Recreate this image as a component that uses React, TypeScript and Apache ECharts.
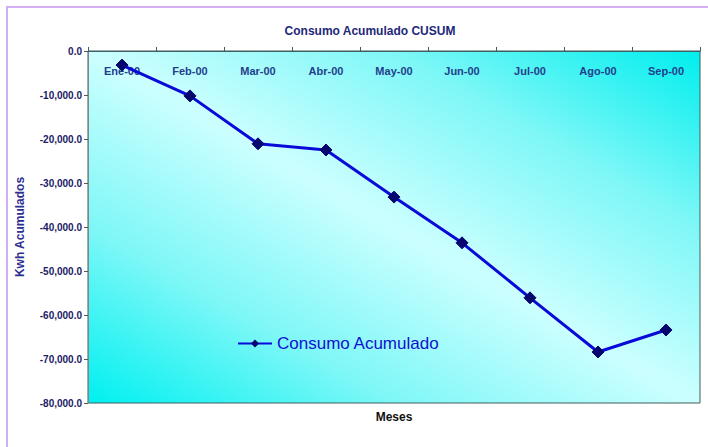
import React, { useEffect, useRef } from "react";
import * as echarts from "echarts";

const categories = ["Ene-00", "Feb-00", "Mar-00", "Abr-00", "May-00", "Jun-00", "Jul-00", "Ago-00", "Sep-00"];
const consumoAcumulado = [-3200, -10200, -21100, -22500, -33200, -43600, -56100, -68400, -63400];
const seriesName = "Consumo Acumulado";
const titleText = "Consumo Acumulado CUSUM";
const yAxisName = "Kwh Acumulados";
const xAxisName = "Meses";

const FONT = "'Liberation Sans Narrow', 'Liberation Sans', Arial, sans-serif";

export default function App() {
  const ref = useRef<HTMLDivElement>(null);
  useEffect(() => {
    if (!ref.current) return;
    const chart = echarts.init(ref.current, null, { renderer: "svg" });
    chart.setOption({
      animation: false,
      backgroundColor: "#ffffff",
      title: {
        text: titleText,
        left: 365,
        top: 20,
        textAlign: "center",
        textStyle: { fontFamily: FONT, fontSize: 12, fontWeight: "bold", color: "#22287a" },
      },
      graphic: [
        {
          type: "rect",
          shape: { x: 7, y: 7, width: 720, height: 460 },
          style: { fill: "none", stroke: "#d4aef2", lineWidth: 2 },
          silent: true,
        },
      ],
      legend: {
        data: [seriesName],
        left: 232,
        top: 330,
        itemWidth: 34,
        itemHeight: 10,
        itemGap: 4,
        textStyle: { fontFamily: "'Liberation Sans', Arial, sans-serif", fontSize: 17, color: "#1010d0" },
      },
      grid: {
        left: 88,
        top: 51,
        right: 8,
        bottom: 44,
        show: true,
        borderColor: "#3f5f5f",
        borderWidth: 1,
        backgroundColor: new echarts.graphic.LinearGradient(
          242, 491, 546, -37,
          [
            { offset: 0, color: "#00f0f0" },
            { offset: 0.25, color: "#7ef7f7" },
            { offset: 0.5, color: "#ccffff" },
            { offset: 0.75, color: "#7ef7f7" },
            { offset: 1, color: "#00eeee" },
          ],
          true
        ),
      },
      xAxis: {
        type: "category",
        data: categories,
        position: "top",
        boundaryGap: true,
        name: xAxisName,
        nameLocation: "middle",
        nameGap: -372,
        nameTextStyle: { fontFamily: FONT, fontSize: 12, fontWeight: "bold", color: "#111111" },
        axisLine: { show: true, lineStyle: { color: "#3f5f5f", width: 1 } },
        axisTick: { show: true, inside: false, length: 4, alignWithLabel: false, lineStyle: { color: "#3f5f5f" } },
        axisLabel: {
          inside: true,
          margin: 14,
          fontFamily: FONT,
          fontSize: 11,
          fontWeight: "bold",
          color: "#22408a",
        },
        splitLine: { show: false },
      },
      yAxis: {
        type: "value",
        min: -80000,
        max: 0,
        interval: 10000,
        name: yAxisName,
        nameLocation: "middle",
        nameGap: 62,
        nameRotate: 90,
        nameTextStyle: { fontFamily: "'Liberation Sans', Arial, sans-serif", fontSize: 12, fontWeight: "bold", color: "#2e2e90" },
        axisLine: { show: true, lineStyle: { color: "#7a8a8a", width: 1 } },
        axisTick: { show: true, length: 4, lineStyle: { color: "#555555" } },
        axisLabel: {
          margin: 6,
          fontFamily: FONT,
          fontSize: 10,
          fontWeight: "bold",
          color: "#1b1b66",
          formatter: (v: number) =>
            v.toLocaleString("en-US", { minimumFractionDigits: 1, maximumFractionDigits: 1 }),
        },
        splitLine: { show: false },
      },
      series: [
        {
          name: seriesName,
          type: "line",
          data: consumoAcumulado,
          symbol: "diamond",
          symbolSize: 12,
          lineStyle: { color: "#0a0ad8", width: 3 },
          itemStyle: { color: "#06066e", borderColor: "#06066e" },
        },
      ],
    });
    return () => chart.dispose();
  }, []);
  return (
    <div style={{ position: "fixed", left: 0, top: 0, width: 708, height: 447 }}>
      <div ref={ref} style={{ width: 708, height: 447 }} />
    </div>
  );
}
